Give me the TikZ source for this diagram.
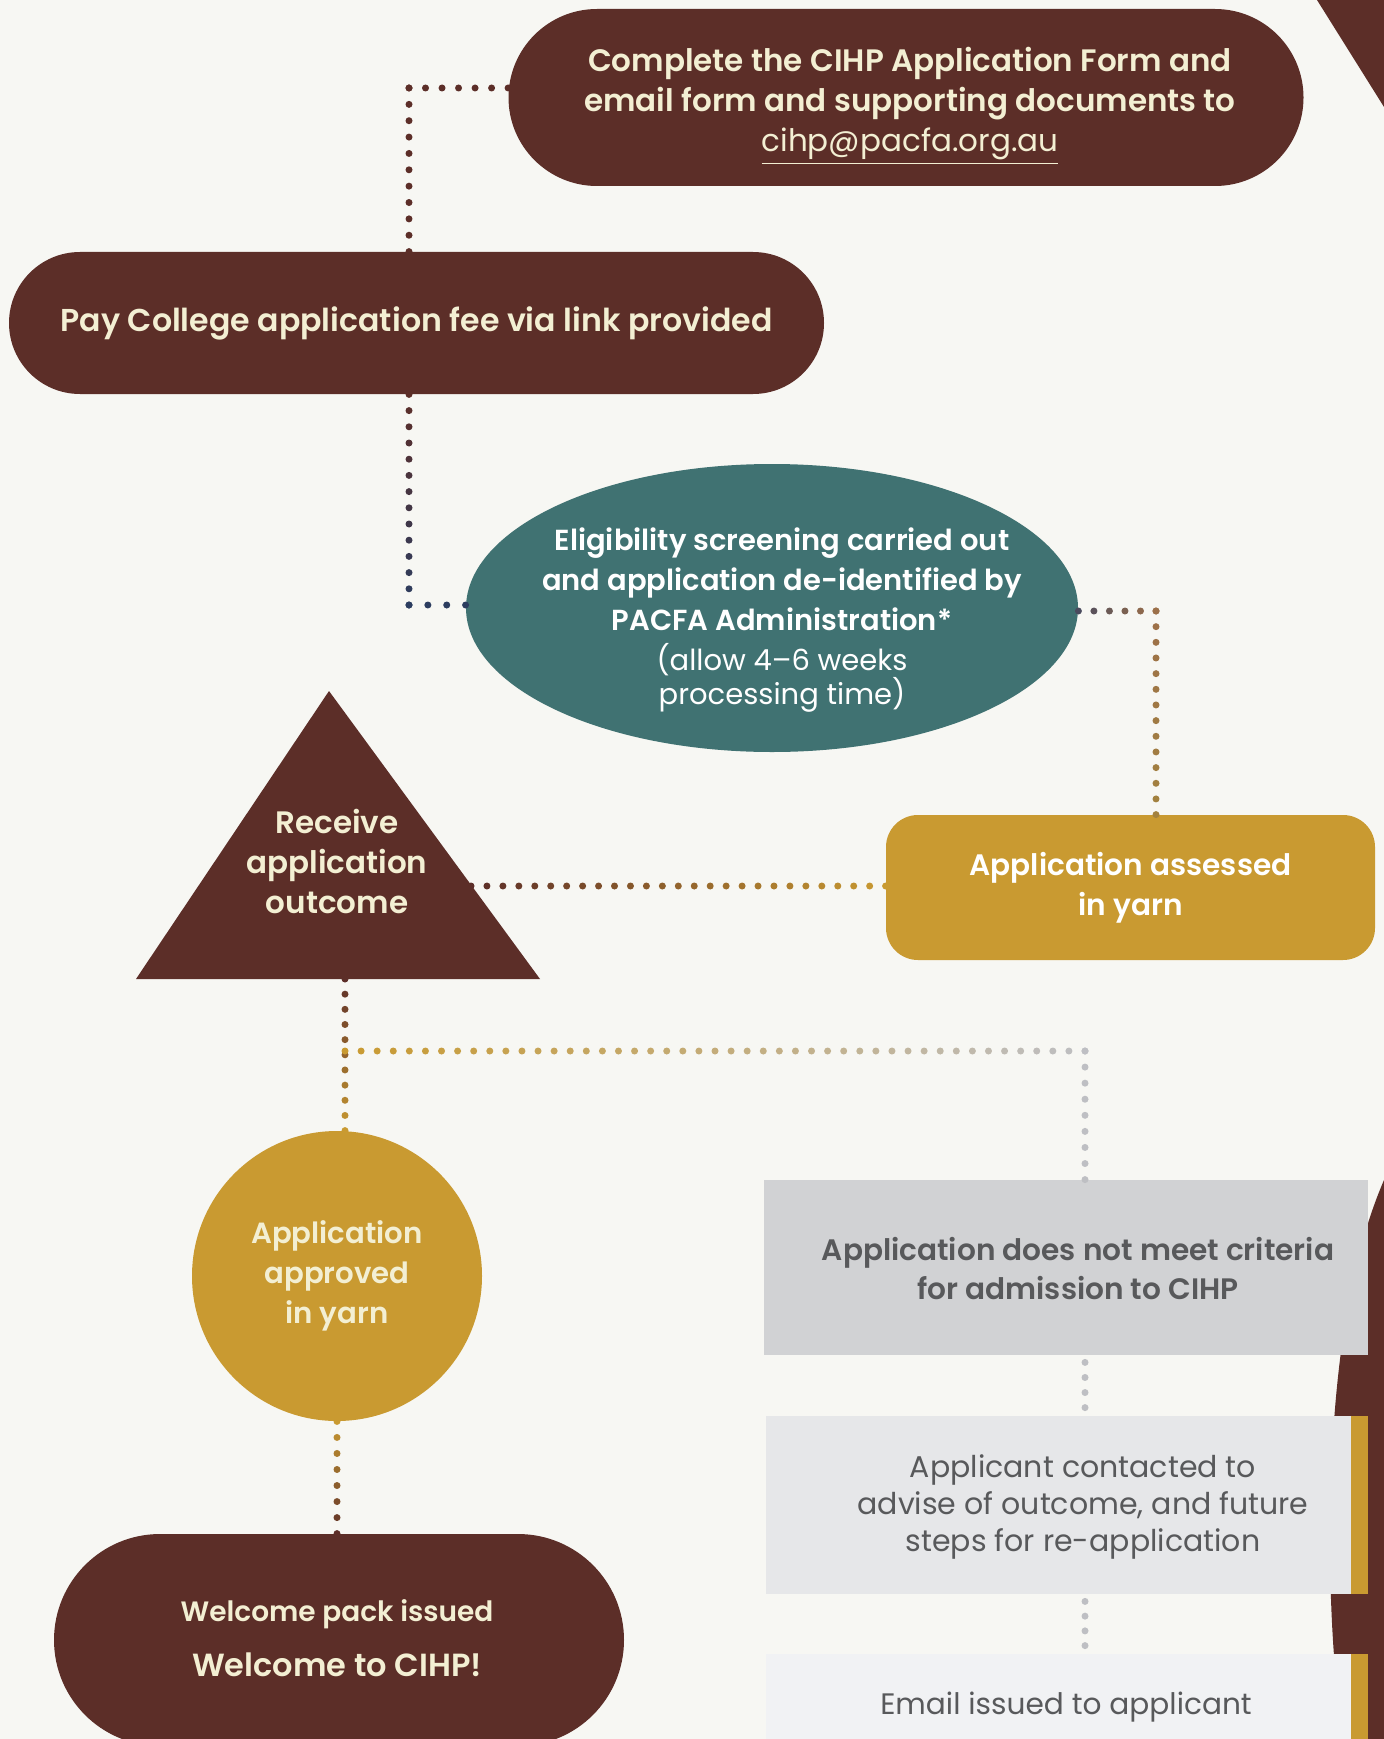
\documentclass[tikz,border=0pt]{standalone}
\usepackage{fontspec}
\setmainfont{Poppins}[BoldFont={* SemiBold}]
\usepackage{tikz}
\usetikzlibrary{calc,shapes.misc,shapes.geometric}
\definecolor{cihpbrown}{HTML}{5C2E28}
\definecolor{cihpteal}{HTML}{407272}
\definecolor{cihpgold}{HTML}{C99A31}
\definecolor{cream}{HTML}{F3EFD3}
\definecolor{paper}{HTML}{F7F7F3}
\definecolor{greyA}{HTML}{D1D2D4}
\definecolor{greyB}{HTML}{E6E7E9}
\definecolor{greyC}{HTML}{F1F2F4}
\definecolor{greytext}{HTML}{58595B}
\definecolor{dotgrey}{HTML}{BEBFC3}
\definecolor{dotnavy}{HTML}{2C3D5F}
\definecolor{dotslate}{HTML}{4A4B5E}
\tikzset{
    pill/.style={rounded rectangle, fill=cihpbrown, text=cream, align=center, inner sep=0pt},
    bigtext/.style={font=\fontsize{15.5}{20}\selectfont\bfseries},
    greybox/.style={rectangle, inner sep=0pt},
    greylabel/.style={text=greytext, align=center, inner sep=0pt}
}
% dotted connector: from, to, start colour, end colour, steps
\newcommand\dotrun[5]{%
\foreach \i in {0,...,#5} {%
\pgfmathtruncatemacro{\pct}{100*\i/#5}
\fill[#4!\pct!#3] ($(#1)!\i/#5!(#2)$) circle[radius=1.75pt];
};
}

\begin{document}
\begin{tikzpicture}[x=0.5pt,y=-0.5pt]
\clip (0,0) rectangle (1384,1739);
\fill[paper] (0,0) rectangle (1384,1739);
% corner shapes
\fill[cihpbrown] (1317,0)--(1384,0)--(1384,107)--cycle;
\fill[cihpbrown] (1384,1180) .. controls (1345,1270) and (1330,1400) .. (1330,1540)
  .. controls (1330,1640) and (1338,1700) .. (1342,1739) -- (1384,1739) -- cycle;
% steps
\node[pill, minimum width=397.5pt, minimum height=88.5pt] (form) at (906,97.5) {};
\node[text=cream, align=center, bigtext] (formtext) at (910,106)
  {Complete the CIHP Application Form and\\email form and supporting documents to\\{\mdseries\underline{cihp@pacfa.org.au}}};
\node[pill, font=\fontsize{15.8}{20}\selectfont\bfseries, minimum width=407.5pt, minimum height=71pt] (fee) at (416.5,323)
  {Pay College application fee via link provided};
\node[ellipse, fill=cihpteal, inner sep=0pt, minimum width=306pt, minimum height=144pt] (screen) at (772,608) {};
\node[text=white, align=center, font=\fontsize{14.5}{20}\selectfont] (screentext) at (782,620)
  {\bfseries Eligibility screening carried out\\\bfseries and application de-identified by\\\bfseries PACFA Administration*\\
   (allow 4--6 weeks\\[-3pt]processing time)};
\node[rectangle, rounded corners=16pt, fill=cihpgold, text=white, align=center,
  font=\fontsize{14.8}{20}\selectfont\bfseries, minimum width=244.5pt, minimum height=72.5pt] (yarn) at (1130.5,887.5)
  {Application assessed\\in yarn};
\fill[cihpbrown] (329,691)--(540,979)--(136,979)--cycle;
\node[text=cream, align=center, bigtext] (outcome) at (337,861) {Receive\\application\\outcome};
\coordinate (tR) at (471,886);
\coordinate (tB) at (345,979);
\node[circle, fill=cihpgold, text=cream, align=center, font=\fontsize{14.6}{20}\selectfont\bfseries,
  minimum size=145pt, inner sep=0pt] (ok) at (337,1276)
  {Application\\approved\\in yarn};
\node[pill, minimum width=285pt, minimum height=106pt] (welcome) at (339,1640) {};
\node[text=cream, align=center] (welcometext) at (337,1638)
  {{\fontsize{14}{18}\selectfont\bfseries Welcome pack issued}\\[11pt]{\fontsize{16}{20}\selectfont\bfseries Welcome to CIHP!}};
\node[greybox, fill=greyA, minimum width=302pt, minimum height=87.5pt] (notmet) at (1066,1267.5) {};
\node[greylabel, font=\fontsize{14.8}{19.5}\selectfont\bfseries] (notmettext) at (1078,1269)
  {Application does not meet criteria\\for admission to CIHP};
\node[greybox, fill=greyB, minimum width=292.5pt, minimum height=89pt] (contact) at (1058.5,1505) {};
\node[greylabel, font=\fontsize{15}{18.6}\selectfont] (contacttext) at (1083,1507)
  {Applicant contacted to\\advise of outcome, and future\\steps for re-application};
\node[greybox, fill=greyC, minimum width=292.5pt, minimum height=49pt] (email) at (1058.5,1703) {};
\node[greylabel, font=\fontsize{14.8}{18.6}\selectfont] (emailtext) at (1066,1707)
  {Email issued to applicant};
\fill[cihpgold] (contact.north east) rectangle ++(17,178);
\fill[cihpgold] (email.north east) rectangle ++(17,98);
% connectors
\coordinate (c1) at (409,88);
\dotrun{form.west |- c1}{c1}{cihpbrown}{cihpbrown}{6}
\dotrun{c1}{fee.north -| c1}{cihpbrown}{cihpbrown}{10}
\coordinate (c2) at (409,605);
\dotrun{fee.south -| c2}{c2}{cihpbrown}{dotnavy}{13}
\dotrun{c2}{screen.west |- c2}{dotnavy}{dotnavy}{3}
\coordinate (c3) at (1156,611);
\dotrun{screen.east |- c3}{c3}{dotslate}{brown!70!dotslate}{5}
\dotrun{c3}{yarn.north -| c3}{brown!70!dotslate}{cihpgold}{13}
\dotrun{tR}{yarn.west |- tR}{cihpbrown}{cihpgold}{26}
\coordinate (c4) at (345,1051);
\dotrun{tB}{ok.north -| tB}{cihpbrown}{cihpgold}{10}
\coordinate (c5) at (1085,1051);
\dotrun{c4}{c5}{cihpgold}{dotgrey}{46}
\dotrun{c5}{notmet.north -| c5}{dotgrey}{dotgrey}{8}
\dotrun{ok.south}{welcome.north -| ok.south}{cihpgold}{cihpbrown}{7}
\dotrun{$(notmet.south -| c5)+(0,7)$}{$(contact.north -| c5)+(0,-8)$}{dotgrey}{dotgrey}{3}
\dotrun{$(contact.south -| c5)+(0,7)$}{$(email.north -| c5)+(0,-8)$}{dotgrey}{dotgrey}{3}
\end{tikzpicture}
\end{document}
